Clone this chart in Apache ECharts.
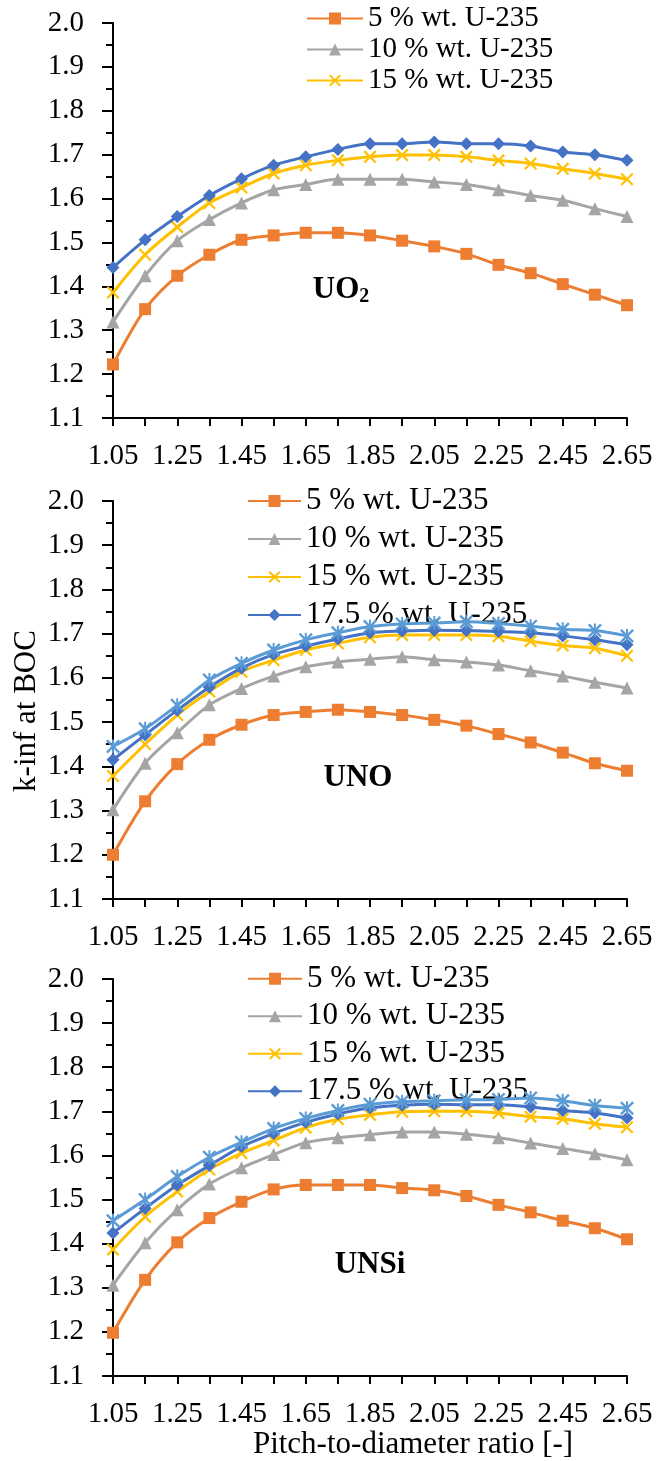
<!DOCTYPE html>
<html>
<head>
<meta charset="utf-8">
<script src="https://cdn.jsdelivr.net/npm/echarts@6/dist/echarts.min.js"></script>
<style>
  html, body { margin: 0; padding: 0; background: #fff; }
  #chart { width: 665px; height: 1461px; }
</style>
</head>
<body>
<div id="chart"></div>
<script>
// Pitch-to-diameter ratio (x categories)
const pdRatio = ['1.05', '1.15', '1.25', '1.35', '1.45', '1.55', '1.65', '1.75', '1.85',
                 '1.95', '2.05', '2.15', '2.25', '2.35', '2.45', '2.55', '2.65'];

// Legend labels
const seriesNames = ['5 % wt. U-235', '10 % wt. U-235', '15 % wt. U-235', '17.5 % wt. U-235'];
const extraSeriesName = 'Series 5';

// Panel labels
const panelLabels = ['UO', 'UNO', 'UNSi'];
const xAxisTitle = 'Pitch-to-diameter ratio [-]';
const yAxisTitle = 'k-inf at BOC';

// UO2 fuel: k-inf at BOC
const uo2_5   = [1.222, 1.348, 1.424, 1.472, 1.506, 1.516, 1.522, 1.522, 1.516, 1.504, 1.491, 1.474, 1.449, 1.430, 1.405, 1.381, 1.357];
const uo2_10  = [1.319, 1.424, 1.504, 1.552, 1.590, 1.620, 1.632, 1.644, 1.644, 1.644, 1.638, 1.632, 1.620, 1.607, 1.596, 1.577, 1.559];
const uo2_15  = [1.386, 1.472, 1.535, 1.590, 1.625, 1.657, 1.676, 1.687, 1.695, 1.699, 1.699, 1.695, 1.687, 1.680, 1.668, 1.657, 1.644];
const uo2_175 = [1.443, 1.506, 1.559, 1.607, 1.645, 1.676, 1.695, 1.712, 1.725, 1.725, 1.729, 1.725, 1.725, 1.720, 1.706, 1.700, 1.687];

// UNO fuel
const uno_5   = [1.200, 1.321, 1.405, 1.460, 1.494, 1.516, 1.523, 1.528, 1.523, 1.516, 1.505, 1.492, 1.473, 1.454, 1.431, 1.407, 1.390];
const uno_10  = [1.302, 1.407, 1.476, 1.539, 1.576, 1.604, 1.625, 1.636, 1.642, 1.648, 1.641, 1.636, 1.629, 1.616, 1.604, 1.590, 1.577];
const uno_15  = [1.378, 1.450, 1.516, 1.569, 1.614, 1.640, 1.663, 1.678, 1.692, 1.697, 1.697, 1.697, 1.694, 1.683, 1.673, 1.667, 1.650];
const uno_175 = [1.415, 1.471, 1.527, 1.579, 1.622, 1.653, 1.672, 1.688, 1.702, 1.706, 1.708, 1.707, 1.705, 1.702, 1.695, 1.686, 1.675];
const uno_s5  = [1.445, 1.485, 1.538, 1.595, 1.633, 1.663, 1.686, 1.702, 1.716, 1.722, 1.724, 1.727, 1.723, 1.717, 1.710, 1.707, 1.695];

// UNSi fuel
const unsi_5   = [1.198, 1.318, 1.403, 1.458, 1.495, 1.523, 1.533, 1.533, 1.533, 1.526, 1.521, 1.508, 1.488, 1.471, 1.452, 1.435, 1.410];
const unsi_10  = [1.306, 1.402, 1.477, 1.535, 1.572, 1.602, 1.629, 1.640, 1.647, 1.653, 1.653, 1.648, 1.640, 1.628, 1.616, 1.604, 1.590];
const unsi_15  = [1.387, 1.461, 1.518, 1.568, 1.605, 1.634, 1.663, 1.682, 1.692, 1.699, 1.700, 1.700, 1.696, 1.688, 1.683, 1.672, 1.664];
const unsi_175 = [1.424, 1.480, 1.533, 1.577, 1.620, 1.650, 1.675, 1.694, 1.708, 1.714, 1.716, 1.715, 1.715, 1.710, 1.702, 1.696, 1.685];
const unsi_s5  = [1.452, 1.500, 1.552, 1.596, 1.630, 1.661, 1.684, 1.702, 1.716, 1.722, 1.724, 1.726, 1.727, 1.730, 1.724, 1.713, 1.707];

const FONT = "'Liberation Serif', 'Times New Roman', serif";
const COLORS = ['#ED7D31', '#A5A5A5', '#FFC000', '#4472C4', '#5B9BD5'];
const X_MARK = 'path://M1.2,0L5,3.8L8.8,0L10,1.2L6.2,5L10,8.8L8.8,10L5,6.2L1.2,10L0,8.8L3.8,5L0,1.2Z';
const STAR_MARK = 'path://M1.2,0L5,3.8L8.8,0L10,1.2L6.2,5L10,8.8L8.8,10L5,6.2L1.2,10L0,8.8L3.8,5L0,1.2Z' +
                  'M4.3,0L5.7,0L5.7,10L4.3,10Z';
const SYMBOLS = ['rect', 'triangle', X_MARK, 'diamond', STAR_MARK];
const SYMBOL_SIZES = [12, 13, 13, 13, 14];

const grids = [
  { left: 113, top: 23,  width: 514, height: 395 },
  { left: 113, top: 501, width: 514, height: 398 },
  { left: 113, top: 979, width: 514, height: 397 }
];

function xAxisFor(i) {
  return {
    type: 'category', gridIndex: i, data: pdRatio, boundaryGap: false,
    axisLine: { lineStyle: { color: '#000', width: 2 } },
    axisTick: { show: true, interval: 0, length: 8, lineStyle: { color: '#000', width: 2 } },
    axisLabel: { interval: 1, margin: 24, color: '#000', fontFamily: FONT, fontSize: 29 },
    splitLine: { show: false }
  };
}

function yAxisFor(i) {
  return {
    type: 'value', gridIndex: i, min: 1.1, max: 2.0, interval: 0.1,
    axisLine: { show: true, lineStyle: { color: '#000', width: 2 } },
    axisTick: { show: true, length: 11, lineStyle: { color: '#000', width: 2 } },
    minorTick: { show: true, splitNumber: 2, length: 7, lineStyle: { color: '#000', width: 2 } },
    axisLabel: { margin: 29, color: '#000', fontFamily: FONT, fontSize: 29,
                 formatter: v => v.toFixed(1) },
    splitLine: { show: false }
  };
}

function line(name, data, gi, k) {
  return {
    name: name, type: 'line', xAxisIndex: gi, yAxisIndex: gi, data: data,
    smooth: 0.3, symbol: SYMBOLS[k], symbolSize: SYMBOL_SIZES[k], symbolKeepAspect: true,
    showAllSymbol: true,
    lineStyle: { color: COLORS[k], width: 3 },
    itemStyle: { color: COLORS[k] },
    z: 2 + k * 0.1
  };
}

const series = [
  line(seriesNames[0], uo2_5, 0, 0),
  line(seriesNames[1], uo2_10, 0, 1),
  line(seriesNames[2], uo2_15, 0, 2),
  line(seriesNames[3], uo2_175, 0, 3),

  line(seriesNames[0], uno_5, 1, 0),
  line(seriesNames[1], uno_10, 1, 1),
  line(seriesNames[2], uno_15, 1, 2),
  line(seriesNames[3], uno_175, 1, 3),
  line(extraSeriesName, uno_s5, 1, 4),

  line(seriesNames[0], unsi_5, 2, 0),
  line(seriesNames[1], unsi_10, 2, 1),
  line(seriesNames[2], unsi_15, 2, 2),
  line(seriesNames[3], unsi_175, 2, 3),
  line(extraSeriesName, unsi_s5, 2, 4)
];

function legendFor(names, left, top, itemWidth, fontSize, rowHeight) {
  return {
    data: names, orient: 'vertical', left: left, top: top, padding: 0,
    itemWidth: itemWidth, itemHeight: 15, itemGap: 0, z: 1,
    selectedMode: false,
    textStyle: { color: '#000', fontFamily: FONT, fontSize: fontSize, lineHeight: rowHeight }
  };
}

const chart = echarts.init(document.getElementById('chart'), null, { renderer: 'canvas' });
chart.setOption({
  animation: false,
  backgroundColor: '#fff',
  grid: grids,
  xAxis: [xAxisFor(0), xAxisFor(1), xAxisFor(2)],
  yAxis: [yAxisFor(0), yAxisFor(1), yAxisFor(2)],
  legend: [
    legendFor(seriesNames.slice(0, 3), 306, 3, 56, 29, 31),
    legendFor(seriesNames, 247, 482, 53, 31, 38),
    legendFor(seriesNames, 247, 960, 54, 31, 37.5)
  ],
  series: series,
  graphic: [
    { type: 'text', x: 341, y: 290, z: 10,
      style: { text: panelLabels[0] + '{s|2}', align: 'center', verticalAlign: 'middle',
               font: 'bold 31px ' + FONT, fill: '#000',
               rich: { s: { font: 'bold 20px ' + FONT, fill: '#000', padding: [14, 0, 0, 0] } } } },
    { type: 'text', x: 358, y: 778, z: 10,
      style: { text: panelLabels[1], align: 'center', verticalAlign: 'middle',
               font: 'bold 31px ' + FONT, fill: '#000' } },
    { type: 'text', x: 370, y: 1265, z: 10,
      style: { text: panelLabels[2], align: 'center', verticalAlign: 'middle',
               font: 'bold 31px ' + FONT, fill: '#000' } },
    { type: 'text', x: 413, y: 1445, z: 10,
      style: { text: xAxisTitle, align: 'center', verticalAlign: 'middle',
               font: '31px ' + FONT, fill: '#000' } },
    { type: 'text', x: 27, y: 711, rotation: Math.PI / 2, z: 10,
      style: { text: yAxisTitle, align: 'center', verticalAlign: 'middle',
               font: '31px ' + FONT, fill: '#000' } }
  ]
});
</script>
</body>
</html>
